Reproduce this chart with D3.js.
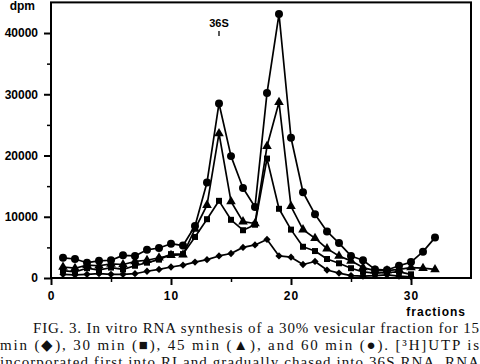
<!DOCTYPE html>
<html>
<head>
<meta charset="utf-8">
<script src="https://cdn.jsdelivr.net/npm/d3@7"></script>
<style>
  body { margin: 0; background: #fff; }
  svg { display: block; }
  .tk text { font-family: "Liberation Sans", Arial, sans-serif; font-weight: bold; font-size: 12px; fill: #000; }
  .cap { font-family: "Liberation Serif", "Times New Roman", serif; font-size: 15px; fill: #111; }
</style>
</head>
<body>
<div id="chart"></div>
<script>
// Fig. 3 - [3H]UTP incorporation across gradient fractions

// 60 min (circles)
var frac60 = [1,2,3,4,5,6,7,8,9,10,11,12,13,14,15,16,17,18,19,20,21,22,23,24,25,26,27,28,29,30,31,32];
var dpm60  = [3300,3100,2500,2800,2900,3700,3600,4600,4900,5600,5300,8500,15600,28500,19900,14700,11600,30200,43100,22900,14000,10400,7600,5700,3600,2900,1400,1300,2000,2600,4300,6600];

// 45 min (triangles)
var frac45 = [1,2,3,4,5,6,7,8,9,10,11,12,13,14,15,16,17,18,19,20,21,22,23,24,25,26,27,28,29,30,31,32];
var dpm45  = [1800,1600,2100,2000,2300,2200,2700,2900,3300,3700,3800,8000,11900,23600,12500,9200,8900,21500,28700,11700,7900,6500,4800,3600,2800,1700,1200,1200,1400,1700,1600,1400];

// 30 min (squares)
var frac30 = [1,2,3,4,5,6,7,8,9,10,11,12,13,14,15,16,17,18,19,20,21,22,23,24,25,26,27,28,29,30];
var dpm30  = [1200,1000,1600,1300,1700,1400,2000,2500,3000,3900,3900,6700,9600,12600,9500,7800,8700,19500,11300,7900,5100,4400,3100,2400,1600,1000,800,900,1000,600];

// 15 min (diamonds)
var frac15 = [1,2,3,4,5,6,7,8,9,10,11,12,13,14,15,16,17,18,19,20,21,22,23,24,25,26,27,28,29,30];
var dpm15  = [600,500,600,700,600,600,700,1100,1400,1800,2100,2600,3000,3600,4000,5000,5400,6300,3600,3400,2200,2700,1300,800,400,300,400,500,300,200];

var yMajor = [0,10000,20000,30000,40000];
var yMinor = [5000,15000,25000,35000];
var xMajor = [0,10,20,30];
var xMinor = [5,15,25];

var caption = [
  "FIG. 3.  In vitro RNA synthesis of a 30% vesicular fraction for 15",
  "min (\u25C6), 30 min (\u25A0), 45 min (\u25B2), and 60 min (\u25CF). [\u00B3H]UTP is",
  "incorporated first into RI and gradually chased into 36S RNA. RNA"
];

var W = 480, H = 364;
var svg = d3.select("#chart").append("svg")
	.attr("width", W)
	.attr("height", H);

var x = d3.scaleLinear().domain([0, 35]).range([51, 471]);
var y = d3.scaleLinear().domain([0, 45000]).range([278, 2.4]);

// frame
svg.append("rect")
	.attr("x", x(0)).attr("y", y(45000))
	.attr("width", x(35) - x(0)).attr("height", y(0) - y(45000))
	.attr("fill", "none").attr("stroke", "#000").attr("stroke-width", 2);

// y axis
svg.append("g").attr("class", "tk")
	.attr("transform", "translate(" + x(0) + ",0)")
	.call(d3.axisLeft(y).tickValues(yMajor).tickSize(7).tickPadding(6).tickFormat(d3.format("d")))
	.call(function(g) { g.select(".domain").remove(); })
	.call(function(g) { g.selectAll("line").attr("stroke-width", 2); });
svg.append("g").attr("class", "tk")
	.attr("transform", "translate(" + x(0) + ",0)")
	.call(d3.axisLeft(y).tickValues(yMinor).tickSize(4).tickFormat(""))
	.call(function(g) { g.select(".domain").remove(); })
	.call(function(g) { g.selectAll("line").attr("stroke-width", 1.5); });

// x axis
svg.append("g").attr("class", "tk")
	.attr("transform", "translate(0," + y(0) + ")")
	.call(d3.axisBottom(x).tickValues(xMajor).tickSize(7).tickPadding(6))
	.call(function(g) { g.select(".domain").remove(); })
	.call(function(g) { g.selectAll("line").attr("stroke-width", 2); })
	.call(function(g) { g.selectAll("text").attr("letter-spacing", "1px"); });
svg.append("g").attr("class", "tk")
	.attr("transform", "translate(0," + y(0) + ")")
	.call(d3.axisBottom(x).tickValues(xMinor).tickSize(4).tickFormat(""))
	.call(function(g) { g.select(".domain").remove(); })
	.call(function(g) { g.selectAll("line").attr("stroke-width", 1.5); });

// axis titles
svg.append("text")
	.attr("x", 35).attr("y", 10)
	.attr("text-anchor", "end")
	.style("font", "bold 12px 'Liberation Sans', Arial, sans-serif")
	.text("dpm");
svg.append("text")
	.attr("x", 466).attr("y", 316)
	.attr("text-anchor", "end")
	.attr("letter-spacing", "1px")
	.style("font", "bold 12px 'Liberation Sans', Arial, sans-serif")
	.text("fractions");

// 36S marker
svg.append("text")
	.attr("x", x(14)).attr("y", 27)
	.attr("text-anchor", "middle")
	.style("font", "bold 11px 'Liberation Sans', Arial, sans-serif")
	.text("36S");
svg.append("line")
	.attr("x1", x(14)).attr("x2", x(14))
	.attr("y1", 31).attr("y2", 36)
	.attr("stroke", "#000").attr("stroke-width", 1.3);

// series
var series = [
	{ f: frac15, v: dpm15, sym: d3.symbolDiamond2, size: 34 },
	{ f: frac30, v: dpm30, sym: d3.symbolSquare, size: 36 },
	{ f: frac45, v: dpm45, sym: d3.symbolTriangle, size: 40 },
	{ f: frac60, v: dpm60, sym: d3.symbolCircle, size: 50 }
];

var line = d3.line()
	.x(function(d) { return x(d[0]); })
	.y(function(d) { return y(d[1]); });

series.forEach(function(s) {
	var pts = s.f.map(function(f, i) { return [f, s.v[i]]; });
	svg.append("path")
		.datum(pts)
		.attr("d", line)
		.attr("fill", "none")
		.attr("stroke", "#000")
		.attr("stroke-width", 1.7)
		.attr("stroke-linejoin", "round");
	svg.append("g").selectAll("path")
		.data(pts)
		.enter().append("path")
		  .attr("transform", function(d) { return "translate(" + x(d[0]) + "," + y(d[1]) + ")"; })
		  .attr("d", d3.symbol().type(s.sym).size(s.size))
		  .attr("fill", "#000");
});

// caption
var capX = [33, 0, 0];
var capY = [333, 350, 367];
caption.forEach(function(t, i) {
	svg.append("text")
		.attr("class", "cap")
		.attr("x", capX[i]).attr("y", capY[i])
		.attr("textLength", 479 - capX[i])
		.attr("lengthAdjust", "spacing")
		.text(t);
});
</script>
</body>
</html>
